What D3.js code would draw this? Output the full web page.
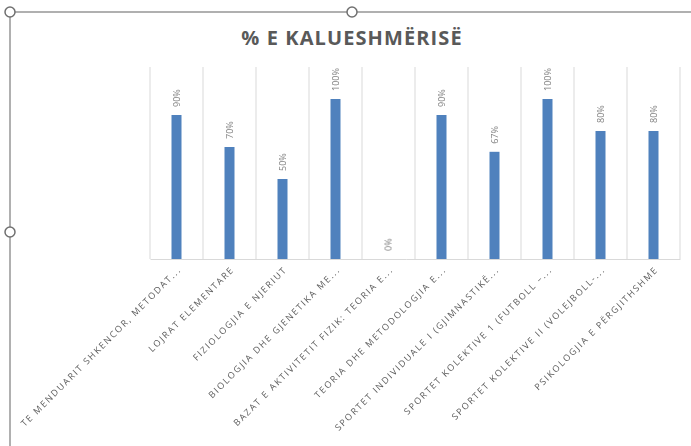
<!DOCTYPE html>
<html>
<head>
<meta charset="utf-8">
<script src="https://cdn.jsdelivr.net/npm/d3@7/dist/d3.min.js"></script>
<style>
  body { margin: 0; background: #fff; }
  svg { display: block; }
  .xaxis, .vals { opacity: 0.99; }
</style>
</head>
<body>
<div id="chart"></div>
<script>
const title = '% E KALUESHMËRISË';
const categories = [
  'TE MENDUARIT SHKENCOR, METODAT...',
  'LOJRAT ELEMENTARE',
  'FIZIOLOGJIA E NJERIUT',
  'BIOLOGJIA DHE GJENETIKA ME...',
  'BAZAT E AKTIVITETIT FIZIK: TEORIA E...',
  'TEORIA DHE METODOLOGJIA E...',
  'SPORTET INDIVIDUALE I (GJIMNASTIKË...',
  'SPORTET KOLEKTIVE 1 (FUTBOLL –...',
  'SPORTET KOLEKTIVE II (VOLEJBOLL-...',
  'PSIKOLOGJIA E PËRGJITHSHME',
];
const passRate = [0.9, 0.7, 0.5, 1.0, 0, 0.9, 0.67, 1.0, 0.8, 0.8];

const drawChart = () => {
  const W = 691;
  const H = 446;
  const margin = {
    top: 67, right: 11, bottom: 187, left: 150,
  };
  const width = W - margin.left - margin.right;
  const height = H - margin.top - margin.bottom;

  const data = categories.map((c, i) => ({ name: c, value: passRate[i] }));

  const x = d3.scaleBand()
    .domain(categories)
    .range([0, width])
    .paddingInner(0)
    .paddingOuter(0);

  const y = d3.scaleLinear()
    .domain([0, 1.2])
    .range([height, 0]);

  const svgRoot = d3.select('#chart').append('svg')
    .attr('width', W)
    .attr('height', H);

  // window frame of the screenshot
  svgRoot.append('line')
    .attr('x1', 10).attr('y1', 12).attr('x2', W).attr('y2', 12)
    .style('stroke', '#b0b0b0').style('stroke-width', 2);
  svgRoot.append('line')
    .attr('x1', 10).attr('y1', 12).attr('x2', 10).attr('y2', H)
    .style('stroke', '#b0b0b0').style('stroke-width', 2);
  [[10, 12], [352, 12], [10, 232]].forEach(([cx, cy]) => {
    svgRoot.append('circle')
      .attr('cx', cx).attr('cy', cy).attr('r', 5)
      .style('fill', '#fff')
      .style('stroke', '#707070')
      .style('stroke-width', 1.5);
  });

  svgRoot.append('text')
    .attr('x', 352)
    .attr('y', 45)
    .attr('text-anchor', 'middle')
    .attr('font-family', 'Open Sans, sans-serif')
    .attr('font-weight', 'bold')
    .attr('font-size', '20px')
    .attr('letter-spacing', '1.1px')
    .attr('fill', '#595959')
    .text(title);

  const svg = svgRoot.append('g')
    .attr('transform', `translate(${margin.left},${margin.top})`);

  // vertical gridlines at category boundaries
  const bounds = categories.map((c) => x(c)).concat([width]);
  svg.selectAll('.grid')
    .data(bounds)
    .enter().append('line')
    .attr('class', 'grid')
    .attr('x1', (d) => d)
    .attr('x2', (d) => d)
    .attr('y1', 0)
    .attr('y2', height)
    .style('stroke', '#d9d9d9')
    .style('stroke-width', 1);

  const barW = 10;
  svg.selectAll('.bar')
    .data(data)
    .enter().append('rect')
    .attr('class', 'bar')
    .attr('x', (d) => x(d.name) + x.bandwidth() / 2 - barW / 2)
    .attr('y', (d) => y(d.value))
    .attr('width', barW)
    .attr('height', (d) => height - y(d.value))
    .style('fill', '#4f81bd');

  // value labels, rotated
  svg.append('g')
    .attr('class', 'vals')
    .selectAll('.val')
    .data(data)
    .enter().append('text')
    .attr('class', 'val')
    .attr('transform', (d) => `translate(${x(d.name) + x.bandwidth() / 2},${y(d.value) - 8}) rotate(-90)`)
    .attr('dy', '0.35em')
    .attr('text-anchor', 'start')
    .attr('font-family', 'Open Sans, sans-serif')
    .attr('font-size', '9px')
    .style('fill', '#808080')
    .text((d) => `${Math.round(d.value * 100)}%`);

  // x axis
  const xAxis = svg.append('g')
    .attr('class', 'xaxis')
    .attr('transform', `translate(0,${height})`)
    .call(d3.axisBottom(x).tickSize(0).tickPadding(0));
  xAxis.select('.domain').style('stroke', '#d9d9d9');
  xAxis.selectAll('text')
    .attr('transform', 'translate(3,9) rotate(-45)')
    .attr('y', 0)
    .attr('x', 0)
    .attr('dy', '0.35em')
    .attr('text-anchor', 'end')
    .attr('font-family', 'Open Sans, sans-serif')
    .attr('font-size', '9px')
    .attr('letter-spacing', '1.65px')
    .style('fill', '#595959');
};

drawChart();
</script>
</body>
</html>
